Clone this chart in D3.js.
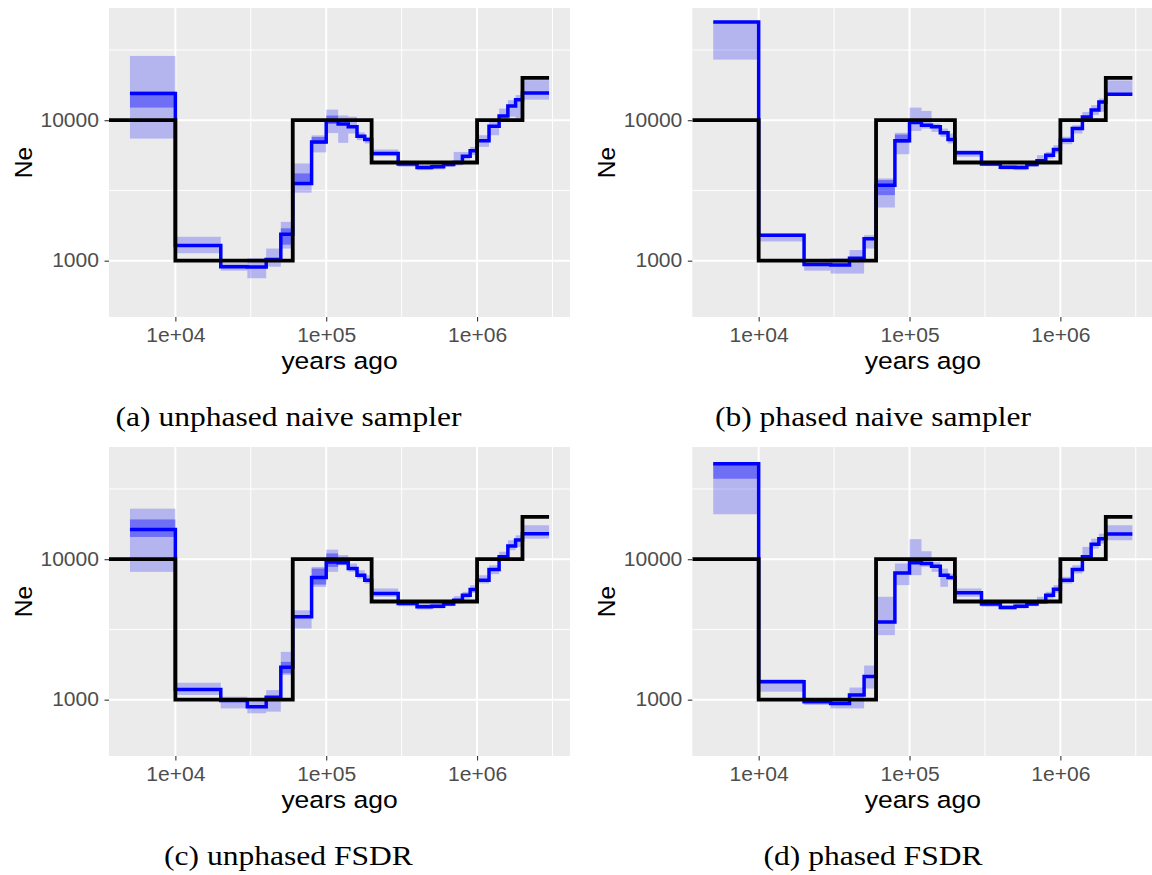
<!DOCTYPE html>
<html>
<head>
<meta charset="utf-8">
<script src="https://cdn.jsdelivr.net/npm/d3@7"></script>
<style>
  body { margin: 0; background: #fff; }
</style>
</head>
<body>
<div id="chart"></div>
<script>
// epoch boundaries (years ago) for the inferred step curves
const breaks = [5000, 1e4, 2e4, 3e4, 4e4, 5e4, 6e4, 8e4, 1e5, 1.2e5, 1.4e5, 1.6e5, 1.8e5, 2e5,
    3e5, 4e5, 5e5, 6e5, 7e5, 8e5, 9e5, 1e6, 1.2e6, 1.4e6, 1.6e6, 1.8e6, 2e6, 3e6];

// true (simulated) demography
const truthTimes = [1e4, 6e4, 2e5, 1e6, 2e6, 3e6];
const truthNe = [10000, 1000, 10000, 5000, 10000, 20000];

// axis ticks
const xTicks = [1e4, 1e5, 1e6];
const xTickLabels = ["1e+04", "1e+05", "1e+06"];
const yTicks = [1000, 10000];
const yTickLabels = ["1000", "10000"];
const xExtent = [5000, 3e6];
const yExtent = [500, 50000];

const captions = ["(a) unphased naive sampler", "(b) phased naive sampler", "(c) unphased FSDR", "(d) phased FSDR"];

// (a) unphased naive sampler
const neA = [15500, 1280, 906, 900, 1020, 1540, 3550, 7000, 9900, 9400, 8970, 7700, 7300, 5800,
    4870, 4600, 4660, 4830, 5000, 5540, 6050, 7140, 9050, 10700, 12600, 14000, 15600];
const outerLoA = [7400, 1130, 850, 750, 906, 1220, 3050, 5900, 8100, 6900, 8040, 7210, 6830, 5550,
    4660, 4410, 4470, 4660, 4770, 5250, 5640, 6460, 7820, 10000, 10600, 10300, 14000];
const outerHiA = [28700, 1480, 957, 1040, 1220, 1890, 4920, 7800, 11900, 10800, 10600, 8200, 7620, 6190,
    5060, 4800, 4900, 5060, 5950, 5950, 6460, 7820, 9730, 12100, 13900, 15100, 19300];
const innerLoA = [12300, null, null, null, null, 1300, 3450, 6800, 9400, null, null, null, null, null,
    null, null, null, null, null, null, null, null, null, null, null, null, null];
const innerHiA = [16000, null, null, null, null, 1700, 4180, 7600, 10800, null, null, null, null, null,
    null, null, null, null, null, null, null, null, null, null, null, null, null];

// (b) phased naive sampler
const neB = [50000, 1520, 940, 930, 1040, 1430, 3450, 7130, 9620, 9200, 8970, 8130, 7300, 5860,
    4870, 4620, 4600, 4830, 5150, 5640, 6180, 7210, 8720, 10550, 11800, 13500, 15300];
const outerLoB = [27000, 1370, 849, 809, 809, 1220, 2390, 5730, 8390, 8720, 8260, 7620, 6830, 5490,
    4710, 4450, 4410, 4660, 4920, 5330, 5800, 6750, 8040, 9730, 10900, 11460, 15100];
const outerHiB = [50500, 1560, 984, 1040, 1190, 1520, 3850, 8130, 12300, 11650, 9470, 8720, 8040, 6120,
    5060, 4800, 4800, 5060, 5640, 5950, 6640, 7620, 9220, 11460, 12800, 14260, 19200];
const innerLoB = [null, null, null, null, null, null, 2930, 6900, null, null, null, null, null, null,
    null, null, null, null, null, null, null, null, null, null, null, null, null];
const innerHiB = [null, null, null, null, null, null, 3750, 7900, null, null, null, null, null, null,
    null, null, null, null, null, null, null, null, null, null, null, null, null];

// (c) unphased FSDR
const neC = [16300, 1180, 985, 892, 1040, 1700, 3890, 7410, 9570, 9420, 8600, 7700, 7090, 5700,
    4840, 4590, 4630, 4790, 5110, 5550, 6090, 7090, 8440, 10400, 12400, 13700, 15200];
const outerLoC = [8130, 1080, 867, 800, 822, 1500, 3210, 6360, 8130, 9060, 8130, 7290, 6710, 5400,
    4630, 4390, 4460, 4630, 4840, 5250, 5760, 6710, 7820, 9840, 11600, 12200, 14000];
const outerHiC = [22900, 1320, 1050, 968, 1170, 2190, 4330, 8820, 11700, 10700, 9320, 8350, 7690, 6190,
    5060, 4790, 4840, 4970, 5460, 5860, 6540, 7690, 9060, 11300, 13650, 14800, 17450];
const innerLoC = [14400, null, null, null, null, 1540, null, 6600, 8820, null, null, null, null, null,
    null, null, null, null, null, null, null, null, null, null, null, null, null];
const innerHiC = [19200, null, null, null, null, 1860, null, 8580, 11000, null, null, null, null, null,
    null, null, null, null, null, null, null, null, null, null, null, null, null];

// (d) phased FSDR
const neD = [47900, 1340, 968, 940, 1080, 1460, 3580, 7990, 9420, 9310, 8920, 7700, 7410, 5760,
    4790, 4540, 4630, 4790, 4970, 5550, 6120, 7090, 8440, 10400, 12800, 14000, 15100];
const outerLoD = [20900, 1140, 917, 867, 867, 1200, 2880, 6540, 7700, 8820, 8130, 6360, 7090, 5400,
    4580, 4390, 4460, 4630, 4840, 5250, 5760, 6710, 7910, 9840, 11900, 12900, 13650];
const outerHiD = [48500, 1400, 995, 995, 1220, 1750, 5400, 9320, 13900, 11400, 9570, 8580, 7910, 6190,
    4970, 4710, 4840, 4970, 5400, 5860, 6540, 7490, 9060, 12240, 14000, 15200, 17450];
const innerLoD = [37400, null, null, null, null, null, null, null, null, null, null, null, null, null,
    null, null, null, null, null, null, null, null, null, null, null, null, null];
const innerHiD = [48500, null, null, null, null, null, null, null, null, null, null, null, null, null,
    null, null, null, null, null, null, null, null, null, null, null, null, null];

const series = [
    { ne: neA, outerLo: outerLoA, outerHi: outerHiA, innerLo: innerLoA, innerHi: innerHiA },
    { ne: neB, outerLo: outerLoB, outerHi: outerHiB, innerLo: innerLoB, innerHi: innerHiB },
    { ne: neC, outerLo: outerLoC, outerHi: outerHiC, innerLo: innerLoC, innerHi: innerHiC },
    { ne: neD, outerLo: outerLoD, outerHi: outerHiD, innerLo: innerLoD, innerHi: innerHiD }
];

// layout
const panelW = 461;
const panelH = 309;
const panelLeft = [109, 692.3, 109, 692.3];
const panelTop = [8, 8, 447, 447];
const captionX = [288.5, 873, 288.5, 873];
const sansStretch = 1.08;   // the figure is a bit wider than tall
const serifStretch = 1.19;

const svg = d3.select("#chart").append("svg")
    .attr("width", 1152)
    .attr("height", 875);

function expandLog(ext) {
    const a = Math.log10(ext[0]), b = Math.log10(ext[1]), p = (b - a) * 0.05;
    return [Math.pow(10, a - p), Math.pow(10, b + p)];
}

// minor breaks half way between majors, like ggplot on a log scale
function minorBreaks(major, domain) {
    const out = [];
    const step = major[1] / major[0];
    const all = [major[0] / step, ...major, major[major.length - 1] * step];
    for (let i = 0; i < all.length - 1; i++) {
        const m = Math.sqrt(all[i] * all[i + 1]);
        if (m > domain[0] && m < domain[1]) out.push(m);
    }
    return out;
}

function stretch(sel, k) {
    sel.each(function () {
        const w = this.getComputedTextLength();
        d3.select(this).attr("textLength", w * k).attr("lengthAdjust", "spacingAndGlyphs");
    });
}

const xScale = d3.scaleLog().domain(expandLog(xExtent)).range([0, panelW]);
const yScale = d3.scaleLog().domain(expandLog(yExtent)).range([panelH, 0]);

series.forEach((s, i) => {
    const g = svg.append("g")
        .attr("transform", `translate(${panelLeft[i]},${panelTop[i]})`);

    const clipId = "clip" + i;
    g.append("clipPath").attr("id", clipId)
        .append("rect").attr("width", panelW).attr("height", panelH);

    g.append("rect")
        .attr("width", panelW)
        .attr("height", panelH)
        .attr("fill", "#EBEBEB");

    // grid
    g.selectAll(".xminor").data(minorBreaks(xTicks, xScale.domain())).enter().append("line")
        .attr("x1", d => xScale(d)).attr("x2", d => xScale(d))
        .attr("y1", 0).attr("y2", panelH)
        .attr("stroke", "#fff").attr("stroke-width", 1);
    g.selectAll(".yminor").data(minorBreaks(yTicks, yScale.domain())).enter().append("line")
        .attr("y1", d => yScale(d)).attr("y2", d => yScale(d))
        .attr("x1", 0).attr("x2", panelW)
        .attr("stroke", "#fff").attr("stroke-width", 1);
    g.selectAll(".xmajor").data(xTicks).enter().append("line")
        .attr("x1", d => xScale(d)).attr("x2", d => xScale(d))
        .attr("y1", 0).attr("y2", panelH)
        .attr("stroke", "#fff").attr("stroke-width", 2);
    g.selectAll(".ymajor").data(yTicks).enter().append("line")
        .attr("y1", d => yScale(d)).attr("y2", d => yScale(d))
        .attr("x1", 0).attr("x2", panelW)
        .attr("stroke", "#fff").attr("stroke-width", 2);

    const plot = g.append("g").attr("clip-path", `url(#${clipId})`);
    const segs = s.ne.map((v, j) => ({
        x0: breaks[j], x1: breaks[j + 1], ne: v,
        oLo: s.outerLo[j], oHi: s.outerHi[j], iLo: s.innerLo[j], iHi: s.innerHi[j]
    }));

    // outer ribbon
    plot.selectAll(".outer").data(segs).enter().append("rect")
        .attr("x", d => xScale(d.x0))
        .attr("width", d => xScale(d.x1) - xScale(d.x0))
        .attr("y", d => yScale(d.oHi))
        .attr("height", d => yScale(d.oLo) - yScale(d.oHi))
        .attr("fill", "#0000FF")
        .attr("fill-opacity", 0.23);

    // inner ribbon
    plot.selectAll(".inner").data(segs.filter(d => d.iLo != null)).enter().append("rect")
        .attr("x", d => xScale(d.x0))
        .attr("width", d => xScale(d.x1) - xScale(d.x0))
        .attr("y", d => yScale(d.iHi))
        .attr("height", d => yScale(d.iLo) - yScale(d.iHi))
        .attr("fill", "#0000FF")
        .attr("fill-opacity", 0.38);

    const stepLine = d3.line()
        .x(d => xScale(d[0]))
        .y(d => yScale(d[1]))
        .curve(d3.curveStepAfter);

    const bluePts = s.ne.map((v, j) => [breaks[j], v]);
    bluePts.push([breaks[breaks.length - 1], s.ne[s.ne.length - 1]]);
    plot.append("path")
        .datum(bluePts)
        .attr("d", stepLine)
        .attr("fill", "none")
        .attr("stroke", "#0000FF")
        .attr("stroke-width", 3.5)
        .attr("stroke-linejoin", "miter");

    // truth starts at the left edge of the panel
    const truthPts = [[xScale.domain()[0], truthNe[0]]];
    truthTimes.forEach((t, j) => truthPts.push([t, truthNe[Math.min(j + 1, truthNe.length - 1)]]));
    plot.append("path")
        .datum(truthPts)
        .attr("d", stepLine)
        .attr("fill", "none")
        .attr("stroke", "#000")
        .attr("stroke-width", 3.8)
        .attr("stroke-linejoin", "miter");

    // axes
    const xAxis = g.append("g")
        .attr("transform", `translate(0,${panelH})`)
        .call(d3.axisBottom(xScale).tickValues(xTicks).tickFormat((d, j) => xTickLabels[j])
            .tickSize(4.5).tickPadding(6.4));
    const yAxis = g.append("g")
        .call(d3.axisLeft(yScale).tickValues(yTicks).tickFormat((d, j) => yTickLabels[j])
            .tickSize(4.5).tickPadding(5.5));
    [xAxis, yAxis].forEach(a => {
        a.select(".domain").remove();
        a.selectAll(".tick line").attr("stroke", "#333333").attr("stroke-width", 1.1);
        a.selectAll(".tick text")
            .attr("fill", "#4D4D4D")
            .style("font-family", "'Liberation Sans', Arial, sans-serif")
            .style("font-size", "19.5px");
        stretch(a.selectAll(".tick text"), sansStretch);
    });

    const xTitle = g.append("text")
        .attr("x", panelW / 2)
        .attr("y", panelH + 52.3)
        .attr("text-anchor", "middle")
        .style("font-family", "'Liberation Sans', Arial, sans-serif")
        .style("font-size", "24.5px")
        .attr("fill", "#000")
        .text("years ago");
    stretch(xTitle, sansStretch);

    g.append("text")
        .attr("transform", `translate(-77.5,${panelH / 2}) rotate(-90)`)
        .attr("text-anchor", "middle")
        .style("font-family", "'Liberation Sans', Arial, sans-serif")
        .style("font-size", "24.5px")
        .attr("fill", "#000")
        .text("Ne");

    const cap = svg.append("text")
        .attr("x", captionX[i])
        .attr("y", panelTop[i] + panelH + 109)
        .attr("text-anchor", "middle")
        .style("font-family", "'Liberation Serif', 'Times New Roman', serif")
        .style("font-size", "26.5px")
        .attr("fill", "#000")
        .text(captions[i]);
    stretch(cap, serifStretch);
});
</script>
</body>
</html>
